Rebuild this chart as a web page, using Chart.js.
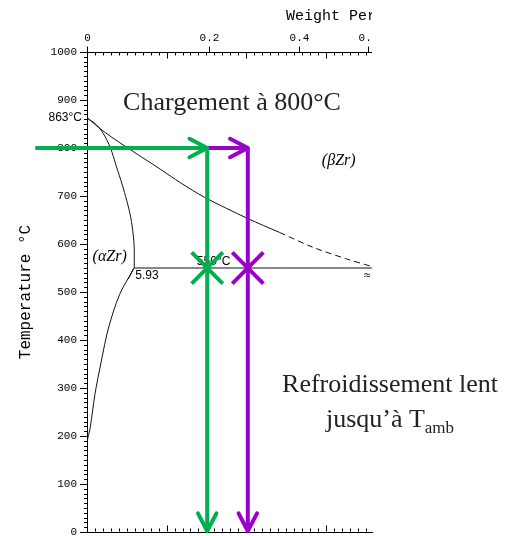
<!DOCTYPE html>
<html>
<head>
<meta charset="utf-8">
<script src="https://cdn.jsdelivr.net/npm/chart.js@4.4.1/dist/chart.umd.min.js"></script>
<style>
  html, body { margin: 0; padding: 0; background: #fff; }
  #wrap { width: 513px; height: 536px; }
</style>
</head>
<body>
<div id="wrap"><canvas id="myChart" width="513" height="536"></canvas></div>
<script>
// Zr-H phase diagram (x = at.% H, y = °C)

// alpha / (alpha + beta) boundary
const alphaUpperX = [0, 1.2, 2.05, 2.95, 3.7, 4.4, 5.0, 5.5, 5.8, 5.93, 5.93];
const alphaUpperT = [863, 848, 830, 800, 761, 725, 690, 655, 620, 594, 550];

// alpha solvus below the eutectoid
const alphaLowerX = [5.93, 4.1, 2.7, 1.8, 1.0, 0.4, 0.05, 0];
const alphaLowerT = [550, 495, 425, 356, 287, 217, 190, 150];

// beta boundary, solid then dashed part
const betaSolidX = [0, 2.3, 5.4, 9.2, 11.7, 14.8, 20.2, 24.2];
const betaSolidT = [863, 832, 797, 756, 728, 697, 653, 624];
const betaDashX = [24.2, 28.4, 32.6, 35.8];
const betaDashT = [624, 593, 569, 553];

// eutectoid line
const eutectoidX = [5.93, 35.8];
const eutectoidT = [550, 550];

// arrows of the thermal path
const greenInX = [-6.5, 15.1];
const greenInT = [800, 800];
const greenDownX = [15.1, 15.1];
const greenDownT = [800, 2];
const purpleInX = [15.1, 20.2];
const purpleInT = [800, 800];
const purpleDownX = [20.2, 20.2];
const purpleDownT = [800, 2];
const crossX = [15.1, 20.2];
const crossT = [550, 550];

// top axis: weight percent labels
const wtValues = [0, 0.2, 0.4, 0.6];
const wtLabels = ['0', '0.2', '0.4', '0.6'];

const GREEN = '#00b050';
const PURPLE = '#9900cc';

function pairs(xs, ys) {
    return xs.map((x, i) => ({x: x, y: ys[i]}));
}

// weight % H in Zr -> atomic % H
function wtToAt(w) {
    const h = w / 1.008;
    const zr = (100 - w) / 91.224;
    return 100 * h / (h + zr);
}

function phaseLine(xs, ys, dash) {
    return {
        data: pairs(xs, ys),
        borderColor: '#111',
        borderWidth: 1,
        borderDash: dash || [],
        pointRadius: 0,
        tension: 0.3,
        order: 2
    };
}

function arrow(xs, ys, color) {
    return {
        data: pairs(xs, ys),
        borderColor: color,
        borderWidth: 4,
        pointRadius: 0,
        tension: 0,
        clip: false,
        arrowHead: true,
        order: 1
    };
}

const decor = {
    id: 'decor',
    beforeDatasetsDraw(chart) {
        const ctx = chart.ctx;
        const x = chart.scales.x;
        const y = chart.scales.y;
        const area = chart.chartArea;
        ctx.save();
        ctx.strokeStyle = '#000';
        ctx.lineWidth = 1;

        // y minor / major ticks
        for (let t = 0; t <= 1000; t += 10) {
            const py = Math.round(y.getPixelForValue(t)) + 0.5;
            const len = t % 100 === 0 ? 7 : 3;
            ctx.beginPath();
            ctx.moveTo(area.left - len, py);
            ctx.lineTo(area.left, py);
            ctx.stroke();
        }

        // clip everything on the top / bottom axis at the right edge
        ctx.save();
        ctx.beginPath();
        ctx.rect(0, 0, area.right, chart.height);
        ctx.clip();

        // top axis line
        const top = Math.round(area.top) + 0.5;
        ctx.beginPath();
        ctx.moveTo(area.left, top);
        ctx.lineTo(area.right, top);
        ctx.stroke();

        // at.% ticks on top and bottom
        const bottom = Math.round(area.bottom) - 0.5;
        for (let a = 0; a <= 36; a += 1) {
            const px = Math.round(x.getPixelForValue(a)) + 0.5;
            const len = a % 10 === 0 ? 6 : 3;
            ctx.beginPath();
            ctx.moveTo(px, top);
            ctx.lineTo(px, top + len);
            ctx.moveTo(px, bottom);
            ctx.lineTo(px, bottom - len);
            ctx.stroke();
        }

        // weight % ticks and labels
        ctx.fillStyle = '#000';
        ctx.font = '11px "Liberation Mono"';
        ctx.textAlign = 'center';
        ctx.textBaseline = 'middle';
        wtValues.forEach((w, i) => {
            const px = Math.round(x.getPixelForValue(wtToAt(w))) + 0.5;
            ctx.beginPath();
            ctx.moveTo(px, top);
            ctx.lineTo(px, top - 6);
            ctx.stroke();
            ctx.fillText(wtLabels[i], px, 38);
        });

        ctx.font = '15px "Liberation Mono"';
        ctx.textAlign = 'left';
        ctx.fillText('Weight Percent Hydrogen', 286, 16);

        ctx.font = '12px "Liberation Sans"';
        ctx.fillText('\u2248', x.getPixelForValue(34.8), y.getPixelForValue(535));
        ctx.restore();

        // labels inside the diagram
        ctx.fillStyle = '#000';
        ctx.textBaseline = 'middle';
        ctx.font = '12px "Liberation Sans"';
        ctx.textAlign = 'right';
        ctx.fillText('863°C', area.left - 5, y.getPixelForValue(863));

        ctx.textAlign = 'left';
        const cx = x.getPixelForValue(5.93);
        const cy = y.getPixelForValue(550);
        ctx.fillText('5.93', cx + 1, cy + 8);
        ctx.beginPath();
        ctx.moveTo(cx - 1, cy + 1);
        ctx.lineTo(cx - 6, cy + 11);
        ctx.stroke();

        ctx.fillText('550°C', x.getPixelForValue(13.8), y.getPixelForValue(563));

        ctx.font = 'italic 16px "Liberation Serif"';
        ctx.fillText('(\u03b1Zr)', x.getPixelForValue(0.7), y.getPixelForValue(574));
        ctx.fillText('(\u03b2Zr)', x.getPixelForValue(29.5), y.getPixelForValue(773));
        ctx.restore();
    },
    afterDatasetsDraw(chart) {
        const ctx = chart.ctx;
        ctx.save();
        chart.data.datasets.forEach((ds, i) => {
            if (!ds.arrowHead) return;
            const pts = chart.getDatasetMeta(i).data;
            const a = pts[pts.length - 2];
            const b = pts[pts.length - 1];
            const ang = Math.atan2(b.y - a.y, b.x - a.x);
            const len = 20;
            const spread = 0.48;
            ctx.strokeStyle = ds.borderColor;
            ctx.lineWidth = 4;
            ctx.lineCap = 'round';
            ctx.lineJoin = 'round';
            ctx.beginPath();
            ctx.moveTo(b.x - len * Math.cos(ang - spread), b.y - len * Math.sin(ang - spread));
            ctx.lineTo(b.x, b.y);
            ctx.lineTo(b.x - len * Math.cos(ang + spread), b.y - len * Math.sin(ang + spread));
            ctx.stroke();
        });

        // free text of the slide
        ctx.fillStyle = '#222';
        ctx.textBaseline = 'alphabetic';
        ctx.textAlign = 'center';
        ctx.font = '26px "Liberation Serif"';
        ctx.fillText('Chargement à 800°C', 232, 110);
        ctx.fillText('Refroidissement lent', 390, 392);

        const main = 'jusqu\u2019à T';
        ctx.font = '26px "Liberation Serif"';
        const w1 = ctx.measureText(main).width;
        ctx.font = '17px "Liberation Serif"';
        const w2 = ctx.measureText('amb').width;
        const start = 390 - (w1 + w2) / 2;
        ctx.textAlign = 'left';
        ctx.font = '26px "Liberation Serif"';
        ctx.fillText(main, start, 427);
        ctx.font = '17px "Liberation Serif"';
        ctx.fillText('amb', start + w1, 433);
        ctx.restore();
    }
};

const config = {
    type: 'line',
    data: {
        datasets: [
            phaseLine(alphaUpperX, alphaUpperT),
            phaseLine(alphaLowerX, alphaLowerT),
            phaseLine(betaSolidX, betaSolidT),
            phaseLine(betaDashX, betaDashT, [6, 4]),
            phaseLine(eutectoidX, eutectoidT),
            arrow(greenInX, greenInT, GREEN),
            arrow(greenDownX, greenDownT, GREEN),
            arrow(purpleInX, purpleInT, PURPLE),
            arrow(purpleDownX, purpleDownT, PURPLE),
            {
                data: pairs(crossX, crossT),
                showLine: false,
                pointStyle: 'crossRot',
                pointRadius: 22,
                pointBorderWidth: 4,
                pointBorderColor: [GREEN, PURPLE],
                borderColor: GREEN,
                clip: false,
                order: 0
            }
        ]
    },
    options: {
        responsive: false,
        animation: false,
        devicePixelRatio: 1,
        events: [],
        layout: {
            autoPadding: false,
            padding: { top: 52, right: 141, bottom: 0, left: 0 }
        },
        plugins: {
            legend: { display: false },
            tooltip: { enabled: false }
        },
        scales: {
            x: {
                type: 'linear',
                min: 0,
                max: 35.8,
                ticks: { display: false },
                grid: { display: false, drawTicks: false },
                border: { display: true, color: '#000', width: 1 },
                afterFit: (scale) => {
                    scale.height = 4;
                    scale.paddingLeft = 0;
                    scale.paddingRight = 0;
                }
            },
            y: {
                type: 'linear',
                min: 0,
                max: 1000,
                ticks: {
                    stepSize: 100,
                    padding: 10,
                    color: '#000',
                    font: { family: 'Liberation Mono', size: 11 },
                    callback: (value) => String(value)
                },
                grid: { display: false, drawTicks: false },
                border: { display: true, color: '#000', width: 1 },
                title: {
                    display: true,
                    text: 'Temperature °C',
                    color: '#000',
                    font: { family: 'Liberation Mono', size: 16 },
                    padding: { top: 16, bottom: 0 }
                },
                afterFit: (scale) => {
                    scale.width = 87;
                    scale.paddingTop = 0;
                    scale.paddingBottom = 0;
                }
            }
        }
    },
    plugins: [decor]
};

const myChart = new Chart(document.getElementById('myChart'), config);
</script>
</body>
</html>
